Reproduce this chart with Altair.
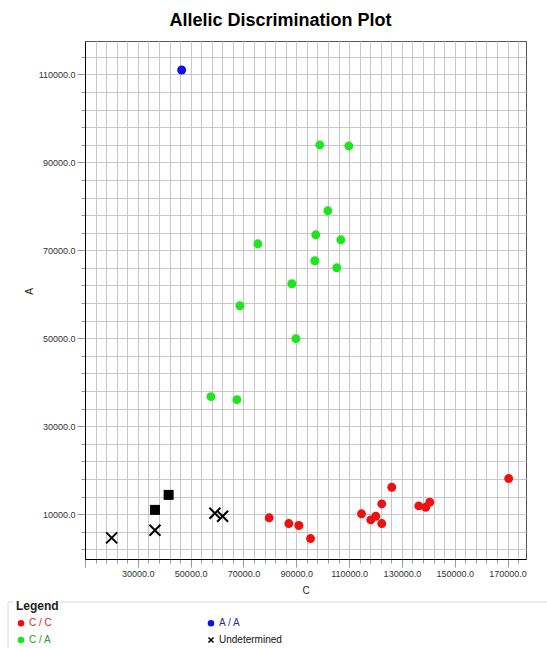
import altair as alt
import pandas as pd

# ---- data ----
cc_c = [79740, 87190, 90980, 95400, 114700, 118220, 120110, 122380, 122380, 126170, 136390, 139030, 140550, 170440]
cc_a = [9160, 7860, 7410, 4450, 10070, 8700, 9520, 7860, 12340, 16110, 11880, 11560, 12700, 18090]
ca_c = [98900, 109900, 101950, 97400, 106870, 75460, 97030, 105350, 88330, 68650, 89840, 57680, 67520]
ca_a = [93970, 93740, 78980, 73520, 72390, 71480, 67620, 66030, 62390, 57400, 49900, 36720, 36030]
aa_c = [46600]
aa_a = [111000]
und_c = [20100, 36490, 59190, 62110]
und_a = [4610, 6340, 10200, 9520]
ntc_c = [36490, 41670]
ntc_a = [10970, 14380]

groups = ["C / C", "C / A", "A / A", "Undetermined", "NTC"]
legend_values = ["C / C", "C / A", "A / A", "Undetermined"]
colors = ["#f01010", "#1ee61e", "#1010e0", "#000000", "#000000"]
x_path = "M-1,-1L1,1M-1,1L1,-1"
shapes = ["circle", "circle", "circle", x_path, "square"]

x_ticks = list(range(10000, 176000, 4000))
y_ticks = list(range(2000, 118000, 4000))

rows = []
for name, cs, as_ in [("C / C", cc_c, cc_a), ("C / A", ca_c, ca_a), ("A / A", aa_c, aa_a),
                      ("Undetermined", und_c, und_a), ("NTC", ntc_c, ntc_a)]:
    for c, a in zip(cs, as_):
        rows.append({"C": c, "A": a, "Genotype": name})
df = pd.DataFrame(rows)

FONT = "Liberation Sans"
major = "(datum.value - 10000) % 20000 === 0"
label_expr = "(datum.value - 10000) % 20000 === 0 && datum.value > 10000 ? format(datum.value, '.1f') : ''"
label_expr_y = "(datum.value - 10000) % 20000 === 0 ? format(datum.value, '.1f') : ''"

label_color = ("datum.label === 'C / C' ? '#d02828' : datum.label === 'A / A' ? '#2a2a9a' : "
               "datum.label === 'C / A' ? '#2a9a2a' : '#111111'")

leg = alt.Legend(
    title="Legend", orient="none", legendX=-69, legendY=560, columns=2,
    values=legend_values, columnPadding=153, rowPadding=5,
    titleFont=FONT, titleFontSize=12, titleFontWeight="bold", titleColor="#222",
    titlePadding=5, labelFont=FONT, labelFontSize=10,
    labelColor=alt.ExprRef(expr=label_color), labelOffset=3,
    symbolSize=26, symbolStrokeWidth=1.5,
)

points = alt.Chart(df).mark_point(opacity=1, fillOpacity=1).encode(
    x=alt.X("C:Q", title="C",
            scale=alt.Scale(domain=[10000, 177000], nice=False, zero=False),
            axis=alt.Axis(values=x_ticks, labelExpr=label_expr, labelOverlap=False, labelFlush=False,
                          grid=True, gridColor="#c8c8c8", gridWidth=1,
                          tickColor="#999", tickSize={"condition": {"test": major, "value": 8}, "value": 4},
                          domainColor="#000", labelFont=FONT, labelFontSize=9, labelColor="#333",
                          labelPadding=2, titleFont=FONT, titleFontSize=10, titleFontWeight="normal",
                          titleColor="#222", titlePadding=7)),
    y=alt.Y("A:Q", title="A",
            scale=alt.Scale(domain=[-200, 117600], nice=False, zero=False),
            axis=alt.Axis(values=y_ticks, labelExpr=label_expr_y, labelOverlap=False, labelFlush=False,
                          grid=True, gridColor="#c8c8c8", gridWidth=1,
                          tickColor="#999", tickSize={"condition": {"test": major, "value": 8}, "value": 4},
                          domainColor="#000", labelFont=FONT, labelFontSize=9, labelColor="#333",
                          labelPadding=2, titleFont=FONT, titleFontSize=10, titleFontWeight="normal",
                          titleColor="#222", titlePadding=4, titleY=250)),
    fill=alt.Fill("Genotype:N", scale=alt.Scale(domain=groups, range=colors), legend=leg),
    stroke=alt.Stroke("Genotype:N", scale=alt.Scale(domain=groups, range=colors), legend=leg),
    shape=alt.Shape("Genotype:N", scale=alt.Scale(domain=groups, range=shapes), legend=leg),
    size={"condition": [{"test": "datum.Genotype === 'Undetermined'", "value": 121},
                        {"test": "datum.Genotype === 'NTC'", "value": 100}], "value": 80},
    strokeWidth={"condition": [{"test": "datum.Genotype === 'Undetermined'", "value": 2}], "value": 0},
)

frame_df = pd.DataFrame({"k": [0]})
border_color = "#d8d8d8"
top_left = alt.Chart(frame_df).mark_rule(color=border_color, strokeWidth=1).encode(
    x=alt.value(-77), x2=alt.value(-72), y=alt.value(561))
top_right = alt.Chart(frame_df).mark_rule(color=border_color, strokeWidth=1).encode(
    x=alt.value(-26), x2=alt.value(462), y=alt.value(561))
left_line = alt.Chart(frame_df).mark_rule(color=border_color, strokeWidth=1).encode(
    x=alt.value(-77), y=alt.value(561), y2=alt.value(607))

chart = alt.layer(points, top_left, top_right, left_line).properties(
    width=441, height=518,
    autosize=alt.AutoSizeParams(type="none"),
    padding={"left": 85, "top": 41, "right": 21, "bottom": 89},
    title=alt.TitleParams("Allelic Discrimination Plot", fontSize=18, fontWeight="bold", font=FONT,
                          color="#000", anchor="middle", dx=-25, offset=11),
    background="white",
).configure_view(stroke="#555", strokeWidth=1)

chart.save("out.html", embed_options={"renderer": "svg", "actions": False})
